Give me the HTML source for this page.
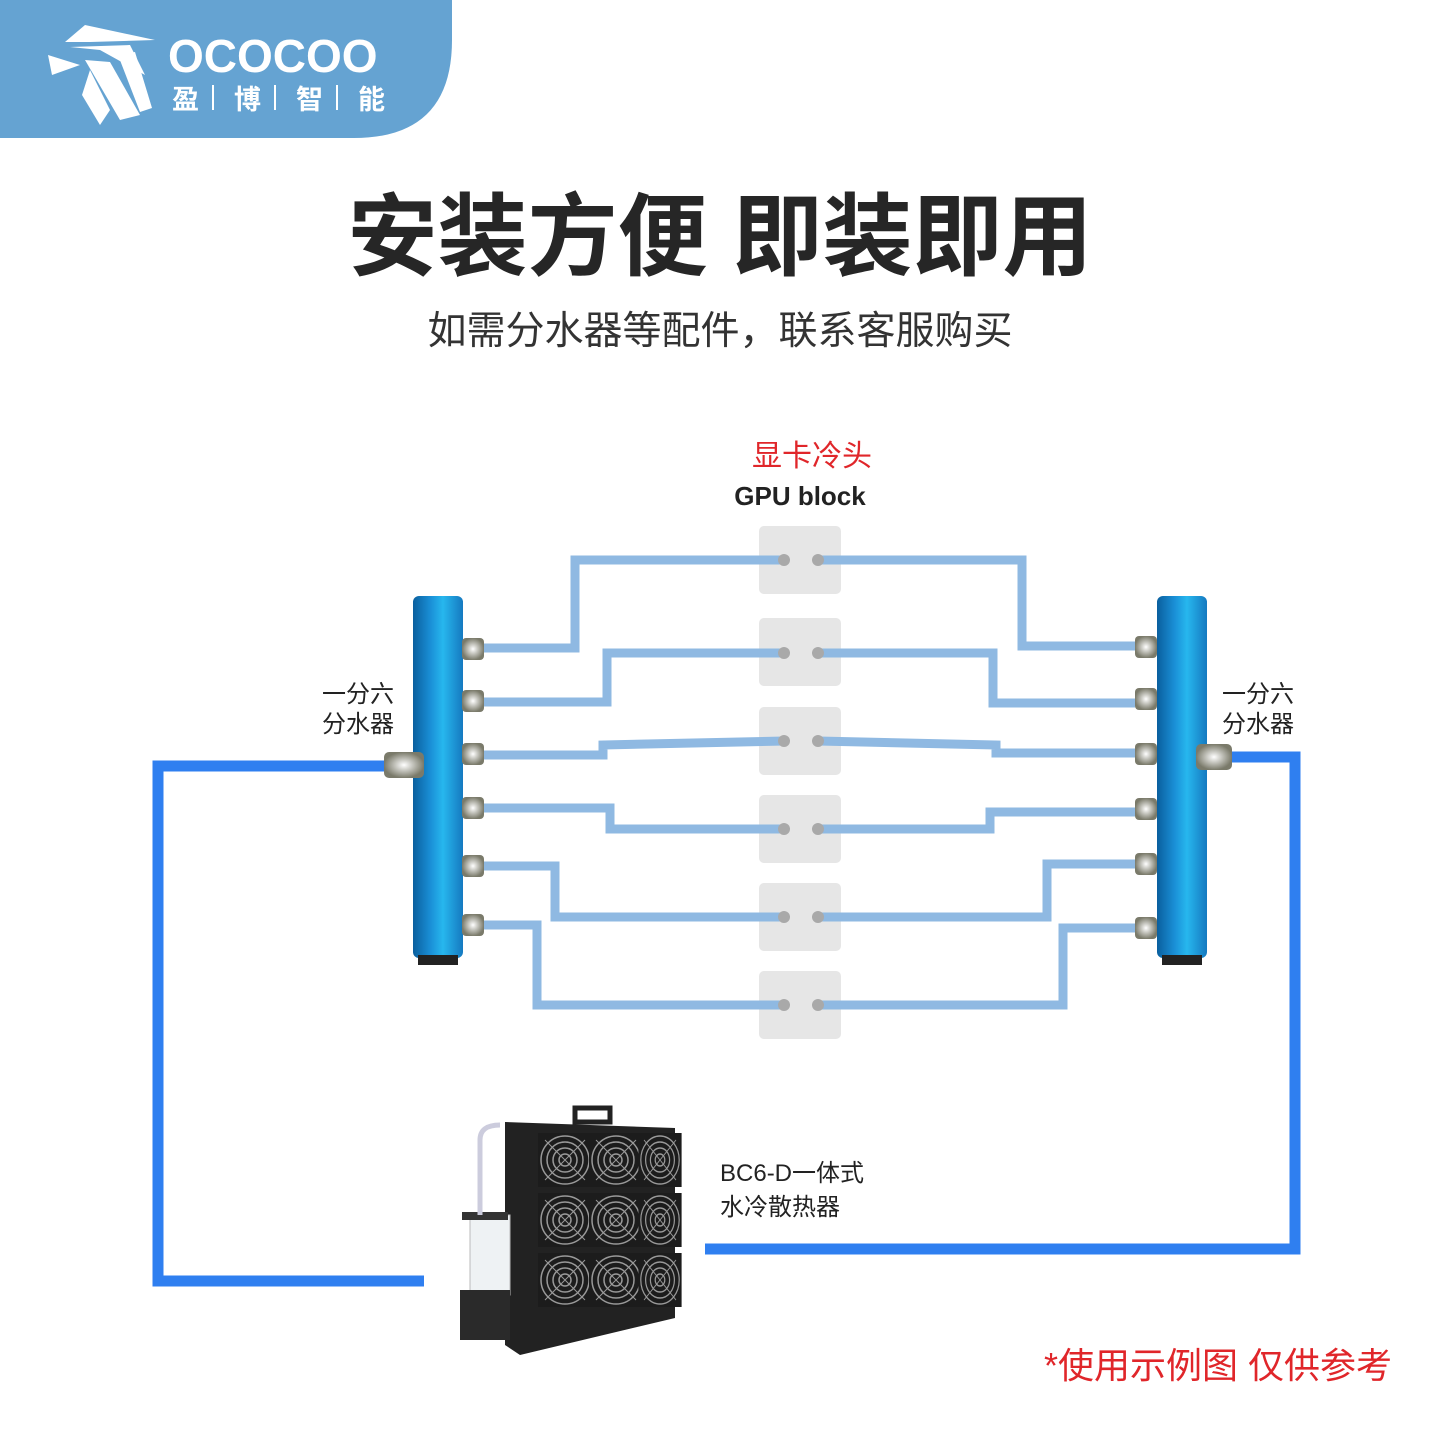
<!DOCTYPE html>
<html><head><meta charset="utf-8"><style>
html,body{margin:0;padding:0;background:#fff}
svg{display:block}
text{font-family:"Liberation Sans","Noto Sans CJK SC",sans-serif}
</style></head><body>
<svg width="1440" height="1440" viewBox="0 0 1440 1440" xmlns="http://www.w3.org/2000/svg">
<defs>
<linearGradient id="man" x1="0" x2="1">
<stop offset="0" stop-color="#0a5f9e"/><stop offset="0.35" stop-color="#1a8fd6"/><stop offset="0.6" stop-color="#27b7ee"/><stop offset="1" stop-color="#1579c0"/>
</linearGradient>
<radialGradient id="fit"><stop offset="0" stop-color="#fff"/><stop offset="1" stop-color="#7a7a6a"/></radialGradient>
<g id="fan"><rect x="-27" y="-27" width="54" height="54" fill="#1c1c1c"/>
<circle r="24" fill="none" stroke="#999" stroke-width="1.5"/><circle r="18" fill="none" stroke="#999" stroke-width="1.5"/><circle r="12" fill="none" stroke="#999" stroke-width="1.5"/><circle r="6" fill="none" stroke="#999" stroke-width="1.5"/>
<path d="M-20,-20L20,20M20,-20L-20,20" stroke="#999" stroke-width="1"/></g>
</defs>
<path d="M0,0H452V40Q452,138 354,138H0Z" fill="#65a3d2"/>
<g fill="#fff">
<polygon points="65,42 85,25 155,40 90,42"/>
<polygon points="70,47 130,45 145,75 100,50"/>
<polygon points="48,55 80,65 52,75"/>
<polygon points="85,60 110,62 140,115 120,120"/>
<polygon points="90,70 110,110 100,125 82,95"/>
<polygon points="118,55 135,52 152,108 140,112"/>
</g>
<text x="168" y="72" font-size="46" font-weight="bold" fill="#fff">OCOCOO</text>
<text x="172" y="109" font-size="27" font-weight="bold" fill="#fff">盈</text>
<text x="234" y="109" font-size="27" font-weight="bold" fill="#fff">博</text>
<text x="296" y="109" font-size="27" font-weight="bold" fill="#fff">智</text>
<text x="358" y="109" font-size="27" font-weight="bold" fill="#fff">能</text>
<g stroke="#fff" stroke-width="2"><line x1="213" y1="85" x2="213" y2="110"/><line x1="275" y1="85" x2="275" y2="110"/><line x1="337" y1="85" x2="337" y2="110"/></g>
<text x="720" y="268" font-size="90" font-weight="bold" fill="#262626" text-anchor="middle">安装方便 即装即用</text>
<text x="720" y="344" font-size="39" fill="#333" text-anchor="middle">如需分水器等配件，联系客服购买</text>
<text x="812" y="466" font-size="30" fill="#e0262a" text-anchor="middle">显卡冷头</text>
<text x="800" y="505" font-size="26" font-weight="bold" fill="#222" text-anchor="middle">GPU block</text>
<text x="358" y="702" font-size="24" fill="#222" text-anchor="middle">一分六</text>
<text x="358" y="732" font-size="24" fill="#222" text-anchor="middle">分水器</text>
<text x="1258" y="702" font-size="24" fill="#222" text-anchor="middle">一分六</text>
<text x="1258" y="732" font-size="24" fill="#222" text-anchor="middle">分水器</text>
<text x="720" y="1181" font-size="24" fill="#222">BC6-D一体式</text>
<text x="720" y="1215" font-size="24" fill="#222">水冷散热器</text>
<text x="1392" y="1378" font-size="36" fill="#e0262a" text-anchor="end">*使用示例图 仅供参考</text>
<g fill="#e6e6e6">
<rect x="759" y="526" width="82" height="68" rx="5"/><rect x="759" y="618" width="82" height="68" rx="5"/><rect x="759" y="707" width="82" height="68" rx="5"/><rect x="759" y="795" width="82" height="68" rx="5"/><rect x="759" y="883" width="82" height="68" rx="5"/><rect x="759" y="971" width="82" height="68" rx="5"/>
</g>
<g fill="none" stroke="#8fb9e2" stroke-width="9" stroke-linejoin="miter">
<polyline points="480,648 575,648 575,560 784,560"/><polyline points="818,560 1022,560 1022,646 1135,646"/>
<polyline points="480,702 607,702 607,653 784,653"/><polyline points="818,653 993,653 993,703 1135,703"/>
<polyline points="480,755 603,755 603,745 784,741"/><polyline points="818,741 996,745 996,753 1135,753"/>
<polyline points="480,808 610,808 610,829 784,829"/><polyline points="818,829 990,829 990,812 1135,812"/>
<polyline points="480,866 555,866 555,917 784,917"/><polyline points="818,917 1047,917 1047,864 1135,864"/>
<polyline points="480,925 537,925 537,1005 784,1005"/><polyline points="818,1005 1063,1005 1063,928 1135,928"/>
</g>
<g fill="#a9a9a9">
<circle cx="784" cy="560" r="6"/><circle cx="818" cy="560" r="6"/><circle cx="784" cy="653" r="6"/><circle cx="818" cy="653" r="6"/><circle cx="784" cy="741" r="6"/><circle cx="818" cy="741" r="6"/><circle cx="784" cy="829" r="6"/><circle cx="818" cy="829" r="6"/><circle cx="784" cy="917" r="6"/><circle cx="818" cy="917" r="6"/><circle cx="784" cy="1005" r="6"/><circle cx="818" cy="1005" r="6"/>
</g>
<g fill="none" stroke="#2f7ff0" stroke-width="11">
<polyline points="390,766 158,766 158,1281 424,1281"/>
<polyline points="1225,757 1295,757 1295,1249 705,1249"/>
</g>
<rect x="413" y="596" width="50" height="362" rx="6" fill="url(#man)"/>
<rect x="418" y="955" width="40" height="10" fill="#222"/>
<rect x="1157" y="596" width="50" height="362" rx="6" fill="url(#man)"/>
<rect x="1162" y="955" width="40" height="10" fill="#222"/>
<g fill="url(#fit)">
<rect x="462" y="638" width="22" height="22" rx="4"/><rect x="462" y="690" width="22" height="22" rx="4"/><rect x="462" y="743" width="22" height="22" rx="4"/><rect x="462" y="797" width="22" height="22" rx="4"/><rect x="462" y="855" width="22" height="22" rx="4"/><rect x="462" y="914" width="22" height="22" rx="4"/>
<rect x="1135" y="636" width="22" height="22" rx="4"/><rect x="1135" y="688" width="22" height="22" rx="4"/><rect x="1135" y="743" width="22" height="22" rx="4"/><rect x="1135" y="798" width="22" height="22" rx="4"/><rect x="1135" y="853" width="22" height="22" rx="4"/><rect x="1135" y="917" width="22" height="22" rx="4"/>
<rect x="384" y="752" width="40" height="26" rx="5"/><rect x="1196" y="744" width="36" height="26" rx="5"/>
</g>
<rect x="575" y="1108" width="35" height="14" fill="none" stroke="#222" stroke-width="5"/>
<polygon points="505,1122 675,1128 675,1318 520,1355 505,1345" fill="#222"/>
<g transform="translate(565,1160)"><use href="#fan"/></g>
<g transform="translate(616,1160)"><use href="#fan"/></g>
<g transform="translate(660,1160) scale(0.8,1)"><use href="#fan"/></g>
<g transform="translate(565,1220)"><use href="#fan"/></g>
<g transform="translate(616,1220)"><use href="#fan"/></g>
<g transform="translate(660,1220) scale(0.8,1)"><use href="#fan"/></g>
<g transform="translate(565,1280)"><use href="#fan"/></g>
<g transform="translate(616,1280)"><use href="#fan"/></g>
<g transform="translate(660,1280) scale(0.8,1)"><use href="#fan"/></g>
<rect x="470" y="1215" width="40" height="80" fill="#eef2f4" stroke="#bbb"/>
<rect x="462" y="1212" width="46" height="8" fill="#333"/>
<rect x="460" y="1290" width="50" height="50" fill="#2a2a2a"/>
<path d="M480,1215 V1140 Q480,1125 500,1125" fill="none" stroke="#ccd" stroke-width="5"/>
</svg>
</body></html>
